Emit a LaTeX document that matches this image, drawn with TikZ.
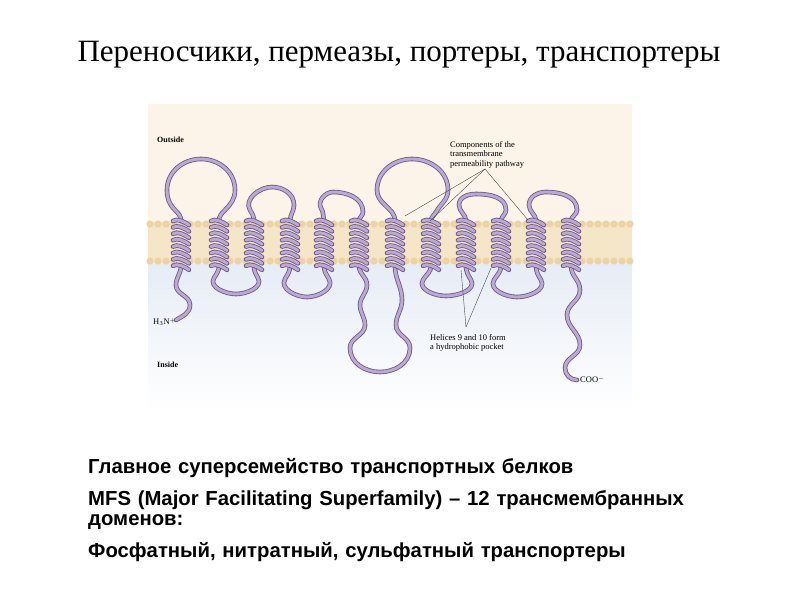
\documentclass[tikz,border=0pt]{standalone}
\usepackage{fontspec}
\setmainfont{Liberation Serif}
\newfontfamily\bodyfont{Liberation Sans}
\definecolor{head}{HTML}{EBD3A4}
\definecolor{band}{HTML}{F5E6C8}
\definecolor{outbg}{HTML}{FCF4E8}
\definecolor{inbg}{HTML}{E6ECF5}
\definecolor{tubeout}{HTML}{6E5C86}
\definecolor{tubein}{HTML}{BBA8D6}
\begin{document}
\begin{tikzpicture}[x=1pt,y=-1pt,
  tubeA/.style={line width=4.6pt,draw=tubeout,line cap=round},
  tubeB/.style={line width=2.9pt,draw=tubein,line cap=round},
  lbl/.style={font=\fontsize{8.5}{9.5}\selectfont,align=left,inner sep=0pt,anchor=north west},
  lead/.style={draw=black!70,line width=0.4pt}]
\useasboundingbox (0,0) rectangle (800,600);
\fill[white] (0,0) rectangle (800,600);
\fill[outbg] (148,104) rectangle (632,224);
\shade[top color=inbg,bottom color=white] (148,262) rectangle (632,410);
\fill[band] (148,222) rectangle (632,263);
\foreach \i in {0,...,60}{
  \fill[head] (150+8*\i,224) circle (3.6);
  \fill[head] (150+8*\i,261) circle (3.6);
}
\def\tube#1{\draw[tubeA] #1; \draw[tubeB] #1;}
\tube{(181,221) to[out=90,in=-45] (175,210) to[out=135,in=-90] (167,190) to[out=90,in=180] (201,159) to[out=0,in=90] (235,190) to[out=-90,in=45] (225,210) to[out=-135,in=90] (219,221)}
\tube{(219,266) to[out=-90,in=60] (214,278) to[out=-120,in=180] (236,294) to[out=0,in=-60] (258,278) to[out=120,in=-90] (254,266)}
\tube{(254,221) to[out=90,in=-60] (250,210) to[out=120,in=180] (272,187) to[out=0,in=90] (294,205) to[out=-90,in=90] (290,221)}
\tube{(290,266) to[out=-90,in=60] (285,279) to[out=-120,in=180] (307,297) to[out=0,in=-60] (329,279) to[out=120,in=-90] (324,266)}
\tube{(324,221) to[out=100,in=-60] (321,208) to[out=120,in=180] (333,192) to[out=0,in=90] (363,212) to[out=-90,in=90] (359,221)}
\tube{(359,266) to[out=-90,in=90] (367,285) to[out=-90,in=90] (360,305) to[out=-90,in=90] (365,325) to[out=-90,in=90] (350,348) to[out=-90,in=180] (380,372) to[out=0,in=-90] (410,348) to[out=90,in=-90] (396,325) to[out=90,in=-90] (402,300) to[out=90,in=-90] (395,266)}
\tube{(395,221) to[out=90,in=-45] (385,205) to[out=135,in=-90] (377,190) to[out=90,in=180] (412,159) to[out=0,in=90] (448,190) to[out=-90,in=60] (436,212) to[out=-120,in=90] (431,221)}
\tube{(431,266) to[out=-90,in=60] (423,280) to[out=-120,in=180] (446,296) to[out=0,in=-60] (471,280) to[out=120,in=-90] (466,266)}
\tube{(466,221) to[out=90,in=-90] (459,205) to[out=90,in=180] (476,194) to[out=0,in=90] (506,210) to[out=-90,in=90] (501,221)}
\tube{(501,266) to[out=-90,in=60] (494,280) to[out=-120,in=180] (517,297) to[out=0,in=-60] (541,280) to[out=120,in=-90] (536,266)}
\tube{(536,221) to[out=90,in=-90] (529,205) to[out=90,in=180] (546,192) to[out=0,in=90] (577,210) to[out=-90,in=90] (571,221)}
\tube{(181,266) to[out=-90,in=90] (176,285) to[out=-90,in=90] (190,305) to[out=-90,in=30] (176,320)}
\tube{(571,266) to[out=-90,in=90] (580,290) to[out=-90,in=90] (567,315) to[out=-90,in=90] (580,345) to[out=-90,in=90] (565,368) to[out=-90,in=180] (577,380)}
\foreach \cx in {181,219,254,290,324,359,395,431,466,501,536,571}{
  \foreach \k in {0,...,7}{
    \pgfmathsetmacro\yy{221+6.4*\k}
    \tube{(\cx-8,\yy) .. controls (\cx-4,\yy-3) and (\cx+4,\yy+1) .. (\cx+8,\yy+4)}
  }
}
\node[lbl,font=\fontsize{8}{9}\selectfont\bfseries] (out) at (157,137) {Outside};
\node[lbl,font=\fontsize{8}{9}\selectfont\bfseries] (in) at (157,362) {Inside};
\node[lbl] (nt) at (153,318) {H$_3$N$^+$};
\node[lbl] (ct) at (580,376) {COO$^-$};
\node[lbl] (comp) at (450,141) {Components of the\\transmembrane\\permeability pathway};
\node[lbl] (hel) at (430,334) {Helices 9 and 10 form\\a hydrophobic pocket};
\coordinate (a1) at (485,169);
\coordinate (a2) at (466,327);
\draw[lead] (a1) -- (405,216);
\draw[lead] (a1) -- (430,221);
\draw[lead] (a1) -- (528,220);
\draw[lead] (a2) -- (461,270);
\draw[lead] (a2) -- (491,268);
\node[font=\fontsize{31}{34}\selectfont] (title) at (399,55) {Переносчики, пермеазы, портеры, транспортеры};
\node[font=\bodyfont\bfseries\fontsize{20.3}{20}\selectfont,align=left,anchor=north west,text width=680pt,inner sep=0pt] (body) at (88,458)
 {Главное суперсемейство транспортных белков\\[12pt]
  MFS (Major Facilitating Superfamily) – 12 трансмембранных\\доменов:\\[12pt]
  Фосфатный, нитратный, сульфатный транспортеры};
\end{tikzpicture}
\end{document}
